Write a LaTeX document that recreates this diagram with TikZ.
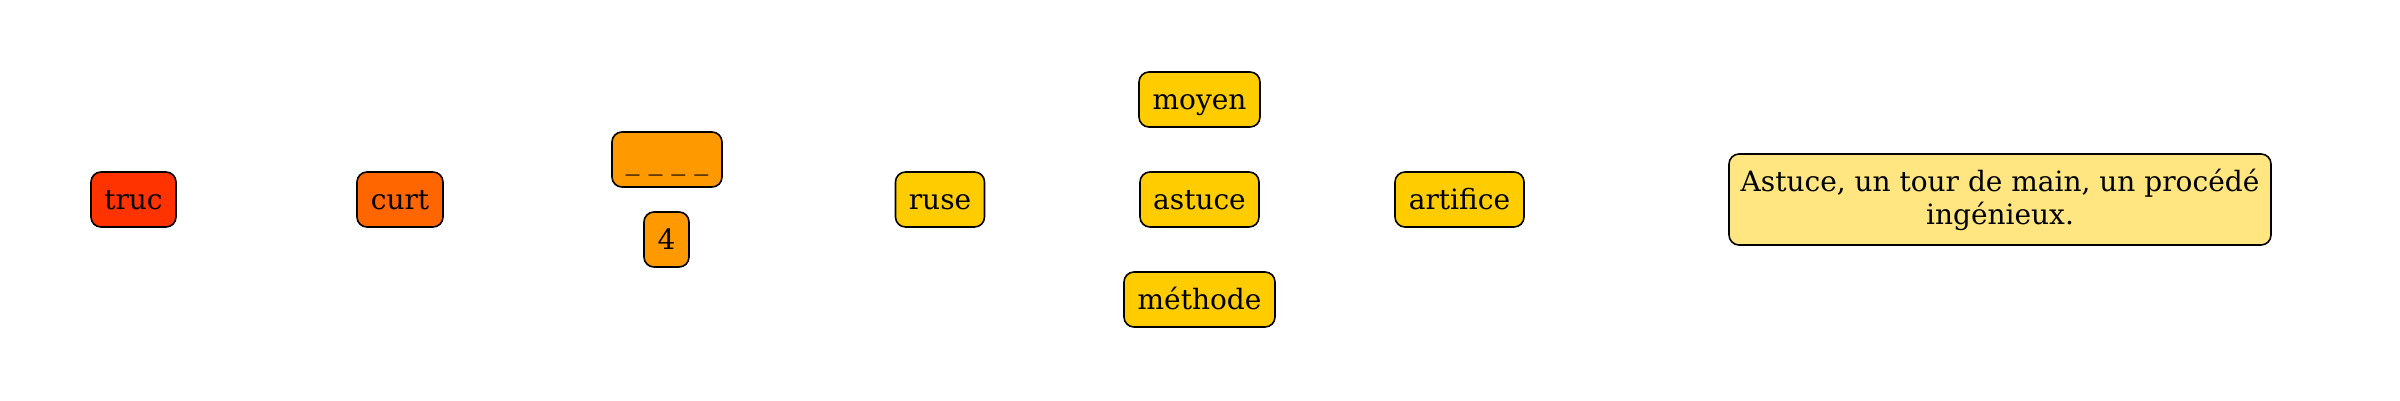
\documentclass[tikz,border=0pt]{standalone}
\usepackage{fontspec}
\setmainfont{DejaVu Serif}
\definecolor{cA}{HTML}{FF3300}
\definecolor{cB}{HTML}{FF6600}
\definecolor{cC}{HTML}{FF9900}
\definecolor{cD}{HTML}{FFCC00}
\definecolor{cE}{HTML}{FFE680}
\tikzset{
  wbox/.style={draw=black, line width=1.6pt, rounded corners=10pt, inner sep=0pt,
    minimum height=55pt, font=\fontsize{28}{33}\selectfont},
  word/.style={wbox, text height=21pt, text depth=2pt},
}
\begin{document}
\begin{tikzpicture}[x=1pt,y=-1pt]
\useasboundingbox (0,0) rectangle (2400,400);
\node[word, fill=cA, minimum width=85pt] (truc) at (133.5,199.5) {truc};
\node[word, fill=cB, minimum width=86pt] (curt) at (400,199.5) {curt};
\node[word, fill=cC, minimum width=110pt] (blank) at (667,159.5) {\_ \_ \_ \_};
\node[word, fill=cC, minimum width=45pt] (four) at (666.5,239.5) {4};
\node[word, fill=cD, minimum width=89pt] (ruse) at (940,199.5) {ruse};
\node[word, fill=cD, minimum width=121pt] (moyen) at (1199.5,99.5) {moyen};
\node[word, fill=cD, minimum width=119pt] (astuce) at (1199.5,199.5) {astuce};
\node[word, fill=cD, minimum width=151pt] (methode) at (1199.5,299.5) {méthode};
\node[word, fill=cD, minimum width=129pt] (artifice) at (1459.5,199.5) {artifice};
\node[wbox, align=center, fill=cE, minimum width=542pt, minimum height=91pt] (def) at (2000,199.5) {Astuce, un tour de main, un procédé\\ingénieux.};
\end{tikzpicture}
\end{document}
